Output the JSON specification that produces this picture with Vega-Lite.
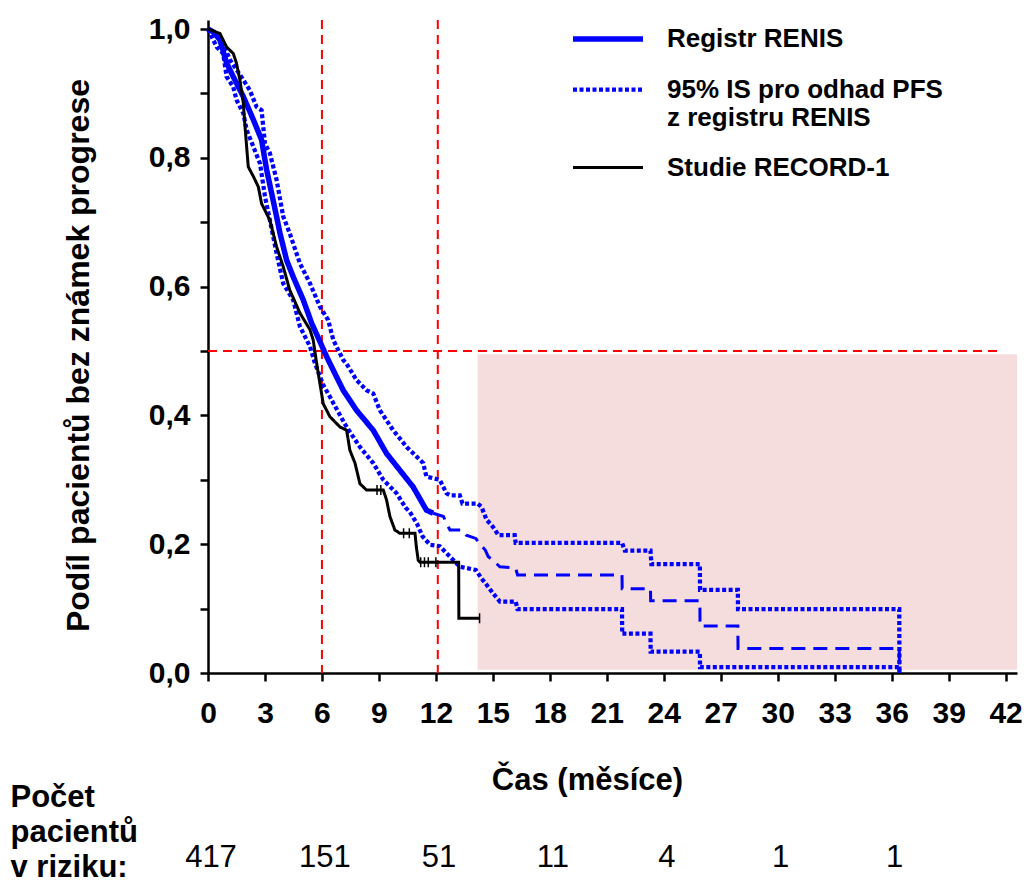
{
  "$schema": "https://vega.github.io/schema/vega-lite/v6.json",
  "autosize": {"type": "none"},
  "padding": {"left": 208, "top": 20, "right": 7, "bottom": 208},
  "width": 809,
  "height": 653,
  "background": "white",
  "config": {
    "view": {"stroke": null},
    "font": "Liberation Sans"
  },
  "datasets": {
    "curves": [
      {"series": "Registr RENIS", "grp": "main", "t": 0, "s": 1.0},
      {"series": "Registr RENIS", "grp": "main", "t": 0.3, "s": 0.995},
      {"series": "Registr RENIS", "grp": "main", "t": 0.63, "s": 0.983},
      {"series": "Registr RENIS", "grp": "main", "t": 0.98, "s": 0.947},
      {"series": "Registr RENIS", "grp": "main", "t": 1.33, "s": 0.926},
      {"series": "Registr RENIS", "grp": "main", "t": 1.86, "s": 0.895},
      {"series": "Registr RENIS", "grp": "main", "t": 2.39, "s": 0.859},
      {"series": "Registr RENIS", "grp": "main", "t": 2.82, "s": 0.828},
      {"series": "Registr RENIS", "grp": "main", "t": 3.09, "s": 0.781},
      {"series": "Registr RENIS", "grp": "main", "t": 3.35, "s": 0.745},
      {"series": "Registr RENIS", "grp": "main", "t": 3.61, "s": 0.709},
      {"series": "Registr RENIS", "grp": "main", "t": 3.79, "s": 0.683},
      {"series": "Registr RENIS", "grp": "main", "t": 4.14, "s": 0.641},
      {"series": "Registr RENIS", "grp": "main", "t": 4.49, "s": 0.615},
      {"series": "Registr RENIS", "grp": "main", "t": 5.02, "s": 0.579},
      {"series": "Registr RENIS", "grp": "main", "t": 5.46, "s": 0.543},
      {"series": "Registr RENIS", "grp": "main", "t": 5.89, "s": 0.515},
      {"series": "Registr RENIS", "grp": "main", "t": 6.25, "s": 0.491},
      {"series": "Registr RENIS", "grp": "main", "t": 6.6, "s": 0.47},
      {"series": "Registr RENIS", "grp": "main", "t": 7.12, "s": 0.439},
      {"series": "Registr RENIS", "grp": "main", "t": 7.82, "s": 0.408},
      {"series": "Registr RENIS", "grp": "main", "t": 8.7, "s": 0.377},
      {"series": "Registr RENIS", "grp": "main", "t": 9.4, "s": 0.341},
      {"series": "Registr RENIS", "grp": "main", "t": 10.1, "s": 0.315},
      {"series": "Registr RENIS", "grp": "main", "t": 10.8, "s": 0.289},
      {"series": "Registr RENIS", "grp": "main", "t": 11.5, "s": 0.253},
      {"series": "Registr RENIS", "grp": "main", "t": 11.86, "s": 0.248},

      {"series": "95% IS pro odhad PFS", "grp": "upper", "t": 0, "s": 1.0},
      {"series": "95% IS pro odhad PFS", "grp": "upper", "t": 0.6, "s": 0.99},
      {"series": "95% IS pro odhad PFS", "grp": "upper", "t": 1.16, "s": 0.952},
      {"series": "95% IS pro odhad PFS", "grp": "upper", "t": 1.86, "s": 0.921},
      {"series": "95% IS pro odhad PFS", "grp": "upper", "t": 2.2, "s": 0.905},
      {"series": "95% IS pro odhad PFS", "grp": "upper", "t": 2.56, "s": 0.879},
      {"series": "95% IS pro odhad PFS", "grp": "upper", "t": 2.82, "s": 0.874},
      {"series": "95% IS pro odhad PFS", "grp": "upper", "t": 3.0, "s": 0.822},
      {"series": "95% IS pro odhad PFS", "grp": "upper", "t": 3.26, "s": 0.807},
      {"series": "95% IS pro odhad PFS", "grp": "upper", "t": 3.61, "s": 0.766},
      {"series": "95% IS pro odhad PFS", "grp": "upper", "t": 3.96, "s": 0.709},
      {"series": "95% IS pro odhad PFS", "grp": "upper", "t": 4.3, "s": 0.683},
      {"series": "95% IS pro odhad PFS", "grp": "upper", "t": 4.84, "s": 0.636},
      {"series": "95% IS pro odhad PFS", "grp": "upper", "t": 5.37, "s": 0.605},
      {"series": "95% IS pro odhad PFS", "grp": "upper", "t": 5.89, "s": 0.569},
      {"series": "95% IS pro odhad PFS", "grp": "upper", "t": 6.33, "s": 0.548},
      {"series": "95% IS pro odhad PFS", "grp": "upper", "t": 6.6, "s": 0.517},
      {"series": "95% IS pro odhad PFS", "grp": "upper", "t": 7.12, "s": 0.486},
      {"series": "95% IS pro odhad PFS", "grp": "upper", "t": 7.3, "s": 0.48},
      {"series": "95% IS pro odhad PFS", "grp": "upper", "t": 7.82, "s": 0.455},
      {"series": "95% IS pro odhad PFS", "grp": "upper", "t": 8.35, "s": 0.439},
      {"series": "95% IS pro odhad PFS", "grp": "upper", "t": 8.7, "s": 0.434},
      {"series": "95% IS pro odhad PFS", "grp": "upper", "t": 9.05, "s": 0.408},
      {"series": "95% IS pro odhad PFS", "grp": "upper", "t": 9.75, "s": 0.377},
      {"series": "95% IS pro odhad PFS", "grp": "upper", "t": 10.46, "s": 0.351},
      {"series": "95% IS pro odhad PFS", "grp": "upper", "t": 11.33, "s": 0.326},
      {"series": "95% IS pro odhad PFS", "grp": "upper", "t": 11.5, "s": 0.305},
      {"series": "95% IS pro odhad PFS", "grp": "upper", "t": 12.2, "s": 0.3},
      {"series": "95% IS pro odhad PFS", "grp": "upper", "t": 12.56, "s": 0.279},
      {"series": "95% IS pro odhad PFS", "grp": "upper", "t": 12.74, "s": 0.276},
      {"series": "95% IS pro odhad PFS", "grp": "upper", "t": 13.26, "s": 0.276},
      {"series": "95% IS pro odhad PFS", "grp": "upper", "t": 13.4, "s": 0.263},
      {"series": "95% IS pro odhad PFS", "grp": "upper", "t": 14.2, "s": 0.263},
      {"series": "95% IS pro odhad PFS", "grp": "upper", "t": 14.4, "s": 0.258},
      {"series": "95% IS pro odhad PFS", "grp": "upper", "t": 14.67, "s": 0.238},
      {"series": "95% IS pro odhad PFS", "grp": "upper", "t": 15.0, "s": 0.227},
      {"series": "95% IS pro odhad PFS", "grp": "upper", "t": 15.3, "s": 0.214},
      {"series": "95% IS pro odhad PFS", "grp": "upper", "t": 16.15, "s": 0.214},
      {"series": "95% IS pro odhad PFS", "grp": "upper", "t": 16.2, "s": 0.202},
      {"series": "95% IS pro odhad PFS", "grp": "upper", "t": 21.8, "s": 0.202},
      {"series": "95% IS pro odhad PFS", "grp": "upper", "t": 21.95, "s": 0.19},
      {"series": "95% IS pro odhad PFS", "grp": "upper", "t": 23.3, "s": 0.19},
      {"series": "95% IS pro odhad PFS", "grp": "upper", "t": 23.35, "s": 0.169},
      {"series": "95% IS pro odhad PFS", "grp": "upper", "t": 25.9, "s": 0.169},
      {"series": "95% IS pro odhad PFS", "grp": "upper", "t": 25.91, "s": 0.129},
      {"series": "95% IS pro odhad PFS", "grp": "upper", "t": 27.9, "s": 0.129},
      {"series": "95% IS pro odhad PFS", "grp": "upper", "t": 27.91, "s": 0.099},
      {"series": "95% IS pro odhad PFS", "grp": "upper", "t": 36.4, "s": 0.099},
      {"series": "95% IS pro odhad PFS", "grp": "upper", "t": 36.41, "s": 0.0},

      {"series": "95% IS pro odhad PFS", "grp": "lower", "t": 0, "s": 1.0},
      {"series": "95% IS pro odhad PFS", "grp": "lower", "t": 0.46, "s": 0.972},
      {"series": "95% IS pro odhad PFS", "grp": "lower", "t": 0.8, "s": 0.962},
      {"series": "95% IS pro odhad PFS", "grp": "lower", "t": 0.98, "s": 0.926},
      {"series": "95% IS pro odhad PFS", "grp": "lower", "t": 1.33, "s": 0.91},
      {"series": "95% IS pro odhad PFS", "grp": "lower", "t": 1.5, "s": 0.89},
      {"series": "95% IS pro odhad PFS", "grp": "lower", "t": 1.86, "s": 0.869},
      {"series": "95% IS pro odhad PFS", "grp": "lower", "t": 2.04, "s": 0.843},
      {"series": "95% IS pro odhad PFS", "grp": "lower", "t": 2.39, "s": 0.817},
      {"series": "95% IS pro odhad PFS", "grp": "lower", "t": 2.74, "s": 0.791},
      {"series": "95% IS pro odhad PFS", "grp": "lower", "t": 3.0, "s": 0.74},
      {"series": "95% IS pro odhad PFS", "grp": "lower", "t": 3.26, "s": 0.703},
      {"series": "95% IS pro odhad PFS", "grp": "lower", "t": 3.61, "s": 0.652},
      {"series": "95% IS pro odhad PFS", "grp": "lower", "t": 3.96, "s": 0.605},
      {"series": "95% IS pro odhad PFS", "grp": "lower", "t": 4.49, "s": 0.579},
      {"series": "95% IS pro odhad PFS", "grp": "lower", "t": 4.84, "s": 0.538},
      {"series": "95% IS pro odhad PFS", "grp": "lower", "t": 5.37, "s": 0.507},
      {"series": "95% IS pro odhad PFS", "grp": "lower", "t": 5.63, "s": 0.481},
      {"series": "95% IS pro odhad PFS", "grp": "lower", "t": 6.07, "s": 0.447},
      {"series": "95% IS pro odhad PFS", "grp": "lower", "t": 6.42, "s": 0.429},
      {"series": "95% IS pro odhad PFS", "grp": "lower", "t": 6.6, "s": 0.419},
      {"series": "95% IS pro odhad PFS", "grp": "lower", "t": 7.3, "s": 0.382},
      {"series": "95% IS pro odhad PFS", "grp": "lower", "t": 8.0, "s": 0.351},
      {"series": "95% IS pro odhad PFS", "grp": "lower", "t": 8.7, "s": 0.326},
      {"series": "95% IS pro odhad PFS", "grp": "lower", "t": 9.23, "s": 0.3},
      {"series": "95% IS pro odhad PFS", "grp": "lower", "t": 9.93, "s": 0.279},
      {"series": "95% IS pro odhad PFS", "grp": "lower", "t": 10.4, "s": 0.257},
      {"series": "95% IS pro odhad PFS", "grp": "lower", "t": 10.63, "s": 0.25},
      {"series": "95% IS pro odhad PFS", "grp": "lower", "t": 11.0, "s": 0.232},
      {"series": "95% IS pro odhad PFS", "grp": "lower", "t": 11.3, "s": 0.212},
      {"series": "95% IS pro odhad PFS", "grp": "lower", "t": 11.7, "s": 0.199},
      {"series": "95% IS pro odhad PFS", "grp": "lower", "t": 12.2, "s": 0.197},
      {"series": "95% IS pro odhad PFS", "grp": "lower", "t": 12.56, "s": 0.186},
      {"series": "95% IS pro odhad PFS", "grp": "lower", "t": 13.26, "s": 0.165},
      {"series": "95% IS pro odhad PFS", "grp": "lower", "t": 14.1, "s": 0.16},
      {"series": "95% IS pro odhad PFS", "grp": "lower", "t": 14.4, "s": 0.147},
      {"series": "95% IS pro odhad PFS", "grp": "lower", "t": 14.67, "s": 0.137},
      {"series": "95% IS pro odhad PFS", "grp": "lower", "t": 15.0, "s": 0.124},
      {"series": "95% IS pro odhad PFS", "grp": "lower", "t": 15.37, "s": 0.111},
      {"series": "95% IS pro odhad PFS", "grp": "lower", "t": 16.2, "s": 0.111},
      {"series": "95% IS pro odhad PFS", "grp": "lower", "t": 16.3, "s": 0.099},
      {"series": "95% IS pro odhad PFS", "grp": "lower", "t": 21.8, "s": 0.099},
      {"series": "95% IS pro odhad PFS", "grp": "lower", "t": 21.81, "s": 0.061},
      {"series": "95% IS pro odhad PFS", "grp": "lower", "t": 23.3, "s": 0.061},
      {"series": "95% IS pro odhad PFS", "grp": "lower", "t": 23.31, "s": 0.033},
      {"series": "95% IS pro odhad PFS", "grp": "lower", "t": 25.9, "s": 0.033},
      {"series": "95% IS pro odhad PFS", "grp": "lower", "t": 25.91, "s": 0.009},
      {"series": "95% IS pro odhad PFS", "grp": "lower", "t": 36.4, "s": 0.009},
      {"series": "95% IS pro odhad PFS", "grp": "lower", "t": 36.41, "s": 0.0},

      {"series": "Studie RECORD-1", "grp": "record", "t": 0, "s": 1.0},
      {"series": "Studie RECORD-1", "grp": "record", "t": 0.63, "s": 0.993},
      {"series": "Studie RECORD-1", "grp": "record", "t": 0.98, "s": 0.972},
      {"series": "Studie RECORD-1", "grp": "record", "t": 1.33, "s": 0.962},
      {"series": "Studie RECORD-1", "grp": "record", "t": 1.5, "s": 0.947},
      {"series": "Studie RECORD-1", "grp": "record", "t": 1.68, "s": 0.921},
      {"series": "Studie RECORD-1", "grp": "record", "t": 1.86, "s": 0.885},
      {"series": "Studie RECORD-1", "grp": "record", "t": 1.95, "s": 0.848},
      {"series": "Studie RECORD-1", "grp": "record", "t": 2.12, "s": 0.786},
      {"series": "Studie RECORD-1", "grp": "record", "t": 2.39, "s": 0.771},
      {"series": "Studie RECORD-1", "grp": "record", "t": 2.65, "s": 0.755},
      {"series": "Studie RECORD-1", "grp": "record", "t": 2.82, "s": 0.729},
      {"series": "Studie RECORD-1", "grp": "record", "t": 3.26, "s": 0.703},
      {"series": "Studie RECORD-1", "grp": "record", "t": 3.61, "s": 0.662},
      {"series": "Studie RECORD-1", "grp": "record", "t": 3.96, "s": 0.631},
      {"series": "Studie RECORD-1", "grp": "record", "t": 4.3, "s": 0.595},
      {"series": "Studie RECORD-1", "grp": "record", "t": 4.84, "s": 0.559},
      {"series": "Studie RECORD-1", "grp": "record", "t": 5.37, "s": 0.533},
      {"series": "Studie RECORD-1", "grp": "record", "t": 5.54, "s": 0.517},
      {"series": "Studie RECORD-1", "grp": "record", "t": 5.72, "s": 0.481},
      {"series": "Studie RECORD-1", "grp": "record", "t": 5.89, "s": 0.45},
      {"series": "Studie RECORD-1", "grp": "record", "t": 6.07, "s": 0.418},
      {"series": "Studie RECORD-1", "grp": "record", "t": 6.42, "s": 0.398},
      {"series": "Studie RECORD-1", "grp": "record", "t": 6.95, "s": 0.382},
      {"series": "Studie RECORD-1", "grp": "record", "t": 7.3, "s": 0.377},
      {"series": "Studie RECORD-1", "grp": "record", "t": 7.47, "s": 0.346},
      {"series": "Studie RECORD-1", "grp": "record", "t": 7.74, "s": 0.326},
      {"series": "Studie RECORD-1", "grp": "record", "t": 8.0, "s": 0.294},
      {"series": "Studie RECORD-1", "grp": "record", "t": 8.35, "s": 0.284},
      {"series": "Studie RECORD-1", "grp": "record", "t": 9.23, "s": 0.284},
      {"series": "Studie RECORD-1", "grp": "record", "t": 9.4, "s": 0.269},
      {"series": "Studie RECORD-1", "grp": "record", "t": 9.58, "s": 0.243},
      {"series": "Studie RECORD-1", "grp": "record", "t": 9.84, "s": 0.222},
      {"series": "Studie RECORD-1", "grp": "record", "t": 10.1, "s": 0.217},
      {"series": "Studie RECORD-1", "grp": "record", "t": 10.9, "s": 0.217},
      {"series": "Studie RECORD-1", "grp": "record", "t": 10.97, "s": 0.196},
      {"series": "Studie RECORD-1", "grp": "record", "t": 11.07, "s": 0.175},
      {"series": "Studie RECORD-1", "grp": "record", "t": 11.16, "s": 0.172},
      {"series": "Studie RECORD-1", "grp": "record", "t": 13.2, "s": 0.172},
      {"series": "Studie RECORD-1", "grp": "record", "t": 13.21, "s": 0.085},
      {"series": "Studie RECORD-1", "grp": "record", "t": 14.3, "s": 0.085}
    ],
    "tail": [
      {"t": 11.86, "s": 0.248},
      {"t": 12.4, "s": 0.243},
      {"t": 12.56, "s": 0.232},
      {"t": 12.74, "s": 0.222},
      {"t": 13.4, "s": 0.222},
      {"t": 13.6, "s": 0.214},
      {"t": 14.1, "s": 0.209},
      {"t": 14.3, "s": 0.201},
      {"t": 14.6, "s": 0.191},
      {"t": 14.75, "s": 0.181},
      {"t": 15.0, "s": 0.175},
      {"t": 15.37, "s": 0.165},
      {"t": 16.2, "s": 0.163},
      {"t": 16.3, "s": 0.152},
      {"t": 21.8, "s": 0.152},
      {"t": 21.81, "s": 0.131},
      {"t": 23.3, "s": 0.131},
      {"t": 23.31, "s": 0.112},
      {"t": 25.9, "s": 0.112},
      {"t": 25.91, "s": 0.073},
      {"t": 27.9, "s": 0.073},
      {"t": 27.91, "s": 0.038},
      {"t": 36.4, "s": 0.038},
      {"t": 36.41, "s": 0.0}
    ],
    "censor": [
      {"t": 8.9, "s": 0.284},
      {"t": 9.1, "s": 0.284},
      {"t": 10.3, "s": 0.217},
      {"t": 10.6, "s": 0.217},
      {"t": 11.2, "s": 0.172},
      {"t": 11.4, "s": 0.172},
      {"t": 11.6, "s": 0.172},
      {"t": 12.0, "s": 0.172},
      {"t": 14.3, "s": 0.085}
    ],
    "vlines": [{"t": 6}, {"t": 12.1}],
    "risk": [
      {"t": 0, "n": "417"},
      {"t": 6, "n": "151"},
      {"t": 12, "n": "51"},
      {"t": 18, "n": "11"},
      {"t": 24, "n": "4"},
      {"t": 30, "n": "1"},
      {"t": 36, "n": "1"}
    ],
    "riskLabel": [{"lab": "Počet\npacientů\nv riziku:"}],
    "one": [{}]
  },
  "layer": [
    {
      "data": {"name": "one"},
      "mark": {"type": "rect", "color": "#F6DDDD"},
      "encoding": {
        "x": {"datum": 14.2, "type": "quantitative", "scale": {"domain": [0, 42.6], "nice": false, "zero": false}},
        "x2": {"datum": 42.6},
        "y": {"datum": 0.005, "type": "quantitative", "scale": {"domain": [0, 1.014], "nice": false, "zero": false}},
        "y2": {"datum": 0.495}
      }
    },
    {
      "data": {"name": "vlines"},
      "mark": {"type": "rule", "color": "#FF0000", "strokeWidth": 2, "strokeDash": [9, 6]},
      "encoding": {
        "x": {"field": "t", "type": "quantitative"}
      }
    },
    {
      "data": {"name": "one"},
      "mark": {"type": "rule", "color": "#FF0000", "strokeWidth": 2, "strokeDash": [9, 6]},
      "encoding": {
        "x": {"datum": 0, "type": "quantitative"},
        "x2": {"datum": 41.6},
        "y": {"datum": 0.5, "type": "quantitative"}
      }
    },
    {
      "data": {"name": "tail"},
      "mark": {"type": "line", "color": "#0000FF", "strokeWidth": 3, "strokeDash": [14, 8], "strokeCap": "butt"},
      "encoding": {
        "x": {"field": "t", "type": "quantitative"},
        "y": {"field": "s", "type": "quantitative"},
        "order": {"field": "t", "type": "quantitative"}
      }
    },
    {
      "data": {"name": "curves"},
      "mark": {"type": "line", "strokeCap": "butt", "strokeJoin": "miter"},
      "encoding": {
        "x": {
          "field": "t", "type": "quantitative",
          "axis": {
            "values": [0, 3, 6, 9, 12, 15, 18, 21, 24, 27, 30, 33, 36, 39, 42],
            "title": "Čas (měsíce)",
            "grid": false,
            "domainColor": "#000000", "domainWidth": 2.5,
            "tickColor": "#000000", "tickWidth": 2.5, "tickSize": 8,
            "labelFont": "Liberation Sans", "labelFontSize": 30, "labelFontWeight": "bold",
            "labelColor": "#000000", "labelPadding": 17, "labelFlush": false, "labelOverlap": false,
            "titleFont": "Liberation Sans", "titleFontSize": 31, "titleFontWeight": "bold",
            "titleColor": "#000000", "titleX": 379, "titleY": 116, "titleBaseline": "alphabetic", "titleAlign": "center"
          }
        },
        "y": {
          "field": "s", "type": "quantitative",
          "axis": {
            "values": [0, 0.1, 0.2, 0.3, 0.4, 0.5, 0.6, 0.7, 0.8, 0.9, 1.0],
            "labelExpr": "round(datum.value * 10) % 2 == 0 ? replace(format(datum.value, '.1f'), '.', ',') : ''",
            "title": "Podíl pacientů bez známek progrese",
            "grid": false,
            "domainColor": "#000000", "domainWidth": 2.5,
            "tickColor": "#000000", "tickWidth": 2.5, "tickSize": 8,
            "labelFont": "Liberation Sans", "labelFontSize": 30, "labelFontWeight": "bold",
            "labelColor": "#000000", "labelPadding": 10, "labelOverlap": false,
            "titleFont": "Liberation Sans", "titleFontSize": 32, "titleFontWeight": "bold",
            "titleColor": "#000000", "titleX": -120, "titleY": 335, "titleBaseline": "alphabetic", "titleAlign": "center", "titleAngle": -90
          }
        },
        "detail": {"field": "grp"},
        "order": {"field": "t", "type": "quantitative"},
        "color": {
          "field": "series", "type": "nominal",
          "scale": {"domain": ["Registr RENIS", "95% IS pro odhad PFS", "Studie RECORD-1"], "range": ["#0000FF", "#0000FF", "#000000"]},
          "legend": {
            "orient": "none", "legendX": 362, "legendY": -19,
            "title": null, "symbolType": "stroke", "symbolSize": 4900,
            "labelFont": "Liberation Sans", "labelFontSize": 26, "labelFontWeight": "bold", "labelColor": "#000000",
            "labelOffset": 21, "labelLimit": 600, "rowPadding": 0,
            "labelExpr": "datum.label == '95% IS pro odhad PFS' ? ['95% IS pro odhad  PFS', 'z registru RENIS'] : datum.label"
          }
        },
        "strokeDash": {
          "field": "series", "type": "nominal",
          "scale": {"domain": ["Registr RENIS", "95% IS pro odhad PFS", "Studie RECORD-1"], "range": [[1, 0], [4, 2.5], [1, 0]]}
        },
        "strokeWidth": {
          "field": "series", "type": "nominal",
          "scale": {"domain": ["Registr RENIS", "95% IS pro odhad PFS", "Studie RECORD-1"], "range": [5.5, 3, 3]}
        }
      }
    },
    {
      "data": {"name": "censor"},
      "mark": {"type": "point", "shape": "M0,-1L0,1", "size": 100, "filled": false, "stroke": "#000000", "strokeWidth": 1.5, "opacity": 1},
      "encoding": {
        "x": {"field": "t", "type": "quantitative"},
        "y": {"field": "s", "type": "quantitative"}
      }
    },
    {
      "data": {"name": "risk"},
      "mark": {"type": "text", "font": "Liberation Sans", "fontSize": 31, "color": "#000000", "align": "center", "baseline": "middle", "dx": 3},
      "encoding": {
        "x": {"field": "t", "type": "quantitative"},
        "y": {"datum": -0.287, "type": "quantitative"},
        "text": {"field": "n"}
      }
    },
    {
      "data": {"name": "riskLabel"},
      "mark": {"type": "text", "font": "Liberation Sans", "fontSize": 31, "fontWeight": "bold", "color": "#000000", "align": "left", "baseline": "alphabetic", "lineBreak": "\n", "lineHeight": 35},
      "encoding": {
        "x": {"datum": -10.4, "type": "quantitative"},
        "y": {"datum": -0.208, "type": "quantitative"},
        "text": {"field": "lab"}
      }
    }
  ]
}
